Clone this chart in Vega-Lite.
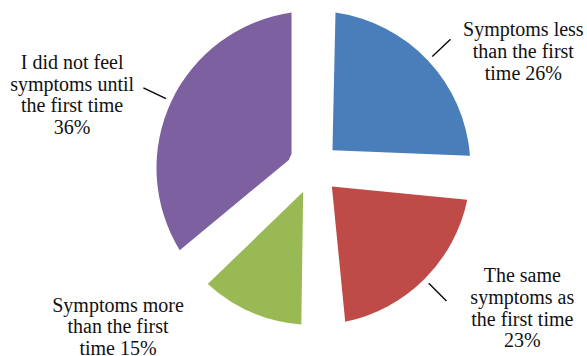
{
  "$schema": "https://vega.github.io/schema/vega-lite/v6.json",
  "autosize": "none",
  "width": 547,
  "height": 336,
  "padding": {"left": 40, "top": 0, "right": 0, "bottom": 20},
  "background": "white",
  "config": {"view": {"stroke": null}, "text": {"font": "Liberation Serif"}},
  "data": {
    "values": [
      {"n": 1, "cat": "Symptoms less than the first time", "v": 26, "label": "Symptoms less\nthan the first\ntime 26%"},
      {"n": 2, "cat": "The same symptoms as the first time", "v": 23, "label": "The same\nsymptoms as\nthe first time\n23%"},
      {"n": 3, "cat": "Symptoms more than the first time", "v": 15, "label": "Symptoms more\nthan the first\ntime 15%"},
      {"n": 4, "cat": "I did not feel symptoms until the first time", "v": 36, "label": "I did not feel\nsymptoms until\nthe first time\n36%"}
    ]
  },
  "encoding": {
    "theta": {"field": "v", "type": "quantitative", "stack": true},
    "order": {"field": "n", "type": "quantitative"}
  },
  "layer": [
    {
      "mark": {"type": "arc", "innerRadius": 26, "outerRadius": 157, "padAngle": 0.2773},
      "encoding": {
        "color": {
          "field": "cat", "type": "nominal", "legend": null,
          "scale": {
            "domain": ["Symptoms less than the first time", "The same symptoms as the first time", "Symptoms more than the first time", "I did not feel symptoms until the first time"],
            "range": ["#4A7EBB", "#BE4B48", "#98B954", "#7D60A0"]
          }
        }
      }
    },
    {
      "mark": {"type": "arc", "innerRadius": 163, "outerRadius": 188, "padAngle": 3, "fill": "transparent", "stroke": "#000000", "strokeWidth": 1.3},
      "encoding": {
        "strokeOpacity": {"condition": {"test": "datum.n === 3", "value": 0}, "value": 1}
      }
    },
    {
      "mark": {"type": "text", "font": "Liberation Serif", "radius": 185, "dx": 75, "dy": -11, "align": "center", "baseline": "middle", "lineBreak": "\n", "fontSize": 20, "lineHeight": 21.6, "color": "#111111"},
      "encoding": {
        "text": {"condition": {"test": "datum.n === 1", "field": "label"}, "value": ""}
      }
    },
    {
      "mark": {"type": "text", "font": "Liberation Serif", "radius": 185, "dx": 78, "dy": -22.5, "align": "center", "baseline": "middle", "lineBreak": "\n", "fontSize": 20, "lineHeight": 21.6, "color": "#111111"},
      "encoding": {
        "text": {"condition": {"test": "datum.n === 2", "field": "label"}, "value": ""}
      }
    },
    {
      "mark": {"type": "text", "font": "Liberation Serif", "radius": 185, "dx": -122, "dy": -32, "align": "center", "baseline": "middle", "lineBreak": "\n", "fontSize": 20, "lineHeight": 21.6, "color": "#111111"},
      "encoding": {
        "text": {"condition": {"test": "datum.n === 3", "field": "label"}, "value": ""}
      }
    },
    {
      "mark": {"type": "text", "font": "Liberation Serif", "radius": 185, "dx": -74, "dy": -26, "align": "center", "baseline": "middle", "lineBreak": "\n", "fontSize": 20, "lineHeight": 21.6, "color": "#111111"},
      "encoding": {
        "text": {"condition": {"test": "datum.n === 4", "field": "label"}, "value": ""}
      }
    }
  ]
}
